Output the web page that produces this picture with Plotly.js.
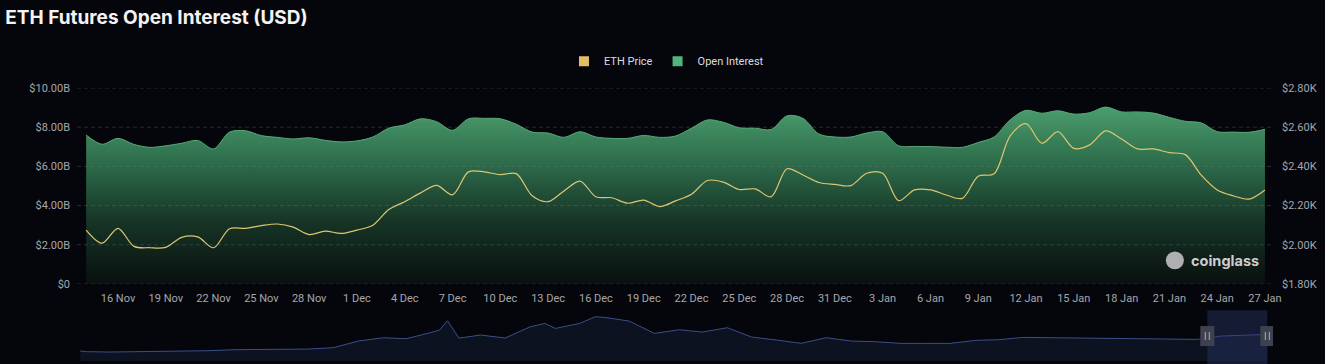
<!DOCTYPE html>
<html>
<head>
<meta charset="utf-8">
<script src="https://cdn.plot.ly/plotly-3.0.1.min.js"></script>
<style>
  html, body { margin: 0; padding: 0; background: #05060b; }
  #chart { width: 1325px; height: 364px; }
</style>
</head>
<body>
<div id="chart"></div>
<script>
// ---- Main chart data (daily, 14 Nov 2023 - 27 Jan 2024) ----
const dates = [
  '2023-11-14','2023-11-15','2023-11-16','2023-11-17','2023-11-18','2023-11-19','2023-11-20','2023-11-21','2023-11-22','2023-11-23',
  '2023-11-24','2023-11-25','2023-11-26','2023-11-27','2023-11-28','2023-11-29','2023-11-30',
  '2023-12-01','2023-12-02','2023-12-03','2023-12-04','2023-12-05','2023-12-06','2023-12-07','2023-12-08','2023-12-09','2023-12-10',
  '2023-12-11','2023-12-12','2023-12-13','2023-12-14','2023-12-15','2023-12-16','2023-12-17','2023-12-18','2023-12-19','2023-12-20',
  '2023-12-21','2023-12-22','2023-12-23','2023-12-24','2023-12-25','2023-12-26','2023-12-27','2023-12-28','2023-12-29','2023-12-30','2023-12-31',
  '2024-01-01','2024-01-02','2024-01-03','2024-01-04','2024-01-05','2024-01-06','2024-01-07','2024-01-08','2024-01-09','2024-01-10',
  '2024-01-11','2024-01-12','2024-01-13','2024-01-14','2024-01-15','2024-01-16','2024-01-17','2024-01-18','2024-01-19','2024-01-20',
  '2024-01-21','2024-01-22','2024-01-23','2024-01-24','2024-01-25','2024-01-26','2024-01-27'
];
// Open interest, billions USD
const openInterest = [
  7.60, 7.13, 7.43, 7.12, 6.97, 7.05, 7.18, 7.32, 6.89, 7.75,
  7.82, 7.57, 7.48, 7.40, 7.46, 7.33, 7.25,
  7.30, 7.50, 7.95, 8.12, 8.43, 8.28, 7.84, 8.43, 8.45, 8.43,
  8.15, 7.75, 7.70, 7.48, 7.77, 7.50, 7.43, 7.43, 7.58, 7.48,
  7.55, 7.95, 8.37, 8.25, 7.97, 7.95, 7.88, 8.58, 8.45, 7.65, 7.50,
  7.50, 7.70, 7.77, 7.05, 7.02, 7.01, 6.98, 6.97, 7.22, 7.50,
  8.37, 8.86, 8.71, 8.84, 8.67, 8.74, 9.03, 8.78, 8.78, 8.72,
  8.50, 8.30, 8.22, 7.77, 7.75, 7.74, 7.89
];
// ETH price, USD
const ethPrice = [
  2075, 2008, 2084, 1992, 1985, 1987, 2038, 2040, 1985, 2082,
  2084, 2098, 2106, 2090, 2052, 2070, 2058,
  2075, 2100, 2180, 2220, 2265, 2303, 2255, 2372, 2372, 2358,
  2363, 2250, 2220, 2275, 2325, 2245, 2240, 2212, 2228, 2195,
  2224, 2258, 2328, 2320, 2282, 2285, 2245, 2388, 2356, 2318, 2308,
  2302, 2365, 2365, 2225, 2280, 2280, 2254, 2237, 2350, 2362,
  2555, 2618, 2518, 2577, 2492, 2510, 2581, 2540, 2489, 2489,
  2470, 2460, 2355, 2280, 2250, 2233, 2280
];

// ---- Navigator (long-range open interest) ----
const navDates = [
  '2020-01-24','2020-02-01','2020-03-01','2020-04-01','2020-05-01','2020-06-01','2020-07-01','2020-08-01','2020-09-01','2020-10-01','2020-11-01','2020-12-01',
  '2021-01-01','2021-02-01','2021-03-01','2021-04-01','2021-04-11','2021-04-21','2021-05-01','2021-05-05','2021-06-01','2021-07-01','2021-08-01','2021-08-19','2021-09-01','2021-10-01','2021-10-20','2021-11-01','2021-12-01',
  '2022-01-01','2022-02-01','2022-03-01','2022-04-01','2022-05-01','2022-06-01','2022-07-01','2022-08-01','2022-09-01','2022-10-01','2022-11-01','2022-12-01',
  '2023-01-01','2023-02-01','2023-03-01','2023-04-01','2023-05-01','2023-06-01','2023-07-01','2023-08-01','2023-09-01','2023-10-01','2023-11-01','2023-12-01',
  '2024-01-01','2024-01-27'
];
const navOI = [
  3.0, 2.8, 2.7, 2.8, 2.8, 2.9, 3.1, 3.4, 3.5, 3.5, 3.6, 4.0,
  6.0, 7.0, 6.7, 8.6, 9.3, 12.1, 8.5, 6.9, 7.8, 6.9, 10.3, 11.3, 9.8, 11.3, 13.3, 13.1, 12.0,
  8.3, 9.4, 8.7, 10.0, 7.2, 6.3, 5.3, 7.0, 6.0, 5.8, 5.3, 5.3,
  5.3, 6.2, 6.4, 7.1, 7.0, 6.8, 6.8, 6.6, 6.5, 6.4, 6.5, 7.5,
  7.7, 8.0
];

// ---- Axis tick labels ----
const oiTickVals = [0, 2, 4, 6, 8, 10];
const oiTickText = ['$0', '$2.00B', '$4.00B', '$6.00B', '$8.00B', '$10.00B'];
const priceTickVals = [1800, 2000, 2200, 2400, 2600, 2800];
const priceTickText = ['$1.80K', '$2.00K', '$2.20K', '$2.40K', '$2.60K', '$2.80K'];
const windowStart = dates[0];
const windowEnd = dates[dates.length - 1];

const BG = '#05060b';
const tickFont = { family: 'Roboto, "Noto Sans", sans-serif', size: 11, color: 'rgb(165,166,172)' };

const traces = [
  {
    type: 'scatter', mode: 'lines', name: 'Open Interest', showlegend: false,
    x: dates, y: openInterest, xaxis: 'x', yaxis: 'y',
    line: { color: 'rgb(88,170,122)', width: 1, shape: 'spline', smoothing: 0.9 },
    fill: 'tozeroy',
    fillgradient: {
      type: 'vertical', start: 0, stop: 9,
      colorscale: [[0, 'rgb(9,16,14)'], [0.35, 'rgb(22,52,38)'], [0.7, 'rgb(46,110,76)'], [1, 'rgb(74,156,108)']]
    },
    hoverinfo: 'skip'
  },
  {
    type: 'scatter', mode: 'lines', name: 'ETH Price', showlegend: false,
    x: dates, y: ethPrice, xaxis: 'x', yaxis: 'y2',
    line: { color: 'rgb(222,198,112)', width: 1.2, shape: 'spline', smoothing: 0.9 },
    hoverinfo: 'skip'
  },
  {
    type: 'scatter', mode: 'lines', name: 'navigator', showlegend: false,
    x: navDates, y: navOI, xaxis: 'x2', yaxis: 'y3',
    line: { color: 'rgb(58,78,138)', width: 1 },
    fill: 'tozeroy', fillcolor: 'rgb(13,18,33)',
    hoverinfo: 'skip'
  },
  // legend entries (square swatches)
  {
    type: 'scatter', mode: 'markers', name: 'ETH Price', x: [null], y: [null], xaxis: 'x', yaxis: 'y',
    marker: { symbol: 'square', size: 10, color: 'rgb(226,190,100)' }
  },
  {
    type: 'scatter', mode: 'markers', name: 'Open Interest', x: [null], y: [null], xaxis: 'x', yaxis: 'y',
    marker: { symbol: 'square', size: 10, color: 'rgb(80,180,125)' }
  }
];

// dashed gridlines drawn above the area fill (as in the reference)
const gridShapes = oiTickVals.map(v => ({
  type: 'line', xref: 'paper', yref: 'y', x0: 0, x1: 1, y0: v, y1: v,
  line: { color: 'rgba(120,126,142,0.30)', width: 1, dash: '4px,3px' }, layer: 'above'
}));

const layout = {
  width: 1325, height: 364,
  paper_bgcolor: BG, plot_bgcolor: BG,
  margin: { l: 77, r: 52, t: 88, b: 0, pad: 0 },
  font: { family: 'Roboto, "Noto Sans", sans-serif', color: 'rgb(200,200,205)' },
  title: {
    text: 'ETH Futures Open Interest (USD)',
    x: 0.004, xanchor: 'left', xref: 'container',
    y: 0.953, yanchor: 'middle', yref: 'container',
    font: { family: 'Inter, "Noto Sans", sans-serif', size: 19, weight: 700, color: '#f3f3f5' }
  },
  showlegend: true,
  legend: {
    orientation: 'h', x: 0.503, xanchor: 'center', xref: 'container',
    y: 0.832, yanchor: 'middle', yref: 'container',
    font: { family: 'Roboto, "Noto Sans", sans-serif', size: 11, color: 'rgb(220,220,224)' },
    bgcolor: 'rgba(0,0,0,0)', itemwidth: 30, traceorder: 'normal'
  },
  xaxis: {
    type: 'date', domain: [0, 1], anchor: 'y',
    range: ['2023-11-13 10:13', '2024-01-27 12:07'],
    tick0: '2023-11-16', dtick: 3 * 86400000, tickformat: '%-d %b',
    showgrid: false, zeroline: false, showline: false, ticks: '', ticklabelstandoff: 6,
    tickfont: tickFont
  },
  yaxis: {
    domain: [0.2899, 1], anchor: 'x',
    range: [0, 10], tickvals: oiTickVals, ticktext: oiTickText,
    showgrid: false,
    zeroline: false, showline: false, ticks: '', ticklabelstandoff: 6,
    tickfont: tickFont
  },
  yaxis2: {
    overlaying: 'y', side: 'right', anchor: 'x',
    range: [1800, 2800], tickvals: priceTickVals, ticktext: priceTickText,
    showgrid: false, zeroline: false, showline: false, ticks: '', ticklabelstandoff: 8,
    tickfont: tickFont
  },
  xaxis2: {
    type: 'date', domain: [0, 1], anchor: 'y3',
    range: ['2020-01-20', '2024-02-03'],
    showgrid: false, zeroline: false, showline: false, showticklabels: false, ticks: ''
  },
  yaxis3: {
    domain: [0, 0.188], anchor: 'x2',
    range: [-0.9, 14.7],
    showgrid: false, zeroline: false, showline: false, showticklabels: false, ticks: ''
  },
  shapes: gridShapes.concat([
    // navigator selection window
    { type: 'rect', xref: 'x2', yref: 'paper', x0: windowStart, x1: windowEnd, y0: 0, y1: 0.195,
      fillcolor: 'rgba(42,60,110,0.40)', line: { width: 0 }, layer: 'above' },
    // handles
    { type: 'rect', xref: 'x2', yref: 'y3', xsizemode: 'pixel', ysizemode: 'pixel',
      xanchor: windowStart, yanchor: 7.5, x0: -7, x1: 7, y0: -10, y1: 10,
      fillcolor: 'rgb(62,66,78)', line: { width: 0 }, layer: 'above' },
    { type: 'rect', xref: 'x2', yref: 'y3', xsizemode: 'pixel', ysizemode: 'pixel',
      xanchor: windowEnd, yanchor: 7.5, x0: -7, x1: 7, y0: -10, y1: 10,
      fillcolor: 'rgb(62,66,78)', line: { width: 0 }, layer: 'above' },
    { type: 'line', xref: 'x2', yref: 'y3', xsizemode: 'pixel', ysizemode: 'pixel',
      xanchor: windowStart, yanchor: 7.5, x0: -2, x1: -2, y0: -4, y1: 4, line: { color: 'rgb(170,172,180)', width: 1 } },
    { type: 'line', xref: 'x2', yref: 'y3', xsizemode: 'pixel', ysizemode: 'pixel',
      xanchor: windowStart, yanchor: 7.5, x0: 2, x1: 2, y0: -4, y1: 4, line: { color: 'rgb(170,172,180)', width: 1 } },
    { type: 'line', xref: 'x2', yref: 'y3', xsizemode: 'pixel', ysizemode: 'pixel',
      xanchor: windowEnd, yanchor: 7.5, x0: -2, x1: -2, y0: -4, y1: 4, line: { color: 'rgb(170,172,180)', width: 1 } },
    { type: 'line', xref: 'x2', yref: 'y3', xsizemode: 'pixel', ysizemode: 'pixel',
      xanchor: windowEnd, yanchor: 7.5, x0: 2, x1: 2, y0: -4, y1: 4, line: { color: 'rgb(170,172,180)', width: 1 } },
    // watermark logo blob
    { type: 'circle', xref: 'paper', yref: 'paper', x0: 0.9104, x1: 0.9255, y0: 0.343, y1: 0.408,
      fillcolor: 'rgb(175,175,178)', line: { width: 0 }, layer: 'above' }
  ]),
  annotations: [
    { text: 'coinglass', xref: 'paper', yref: 'paper', x: 0.9297, y: 0.376, xanchor: 'left', yanchor: 'middle',
      showarrow: false, font: { family: 'Inter, "Noto Sans", sans-serif', size: 14.5, weight: 700, color: 'rgb(205,205,208)' } }
  ]
};

Plotly.newPlot('chart', traces, layout, { staticPlot: true, displayModeBar: false });
</script>
</body>
</html>
